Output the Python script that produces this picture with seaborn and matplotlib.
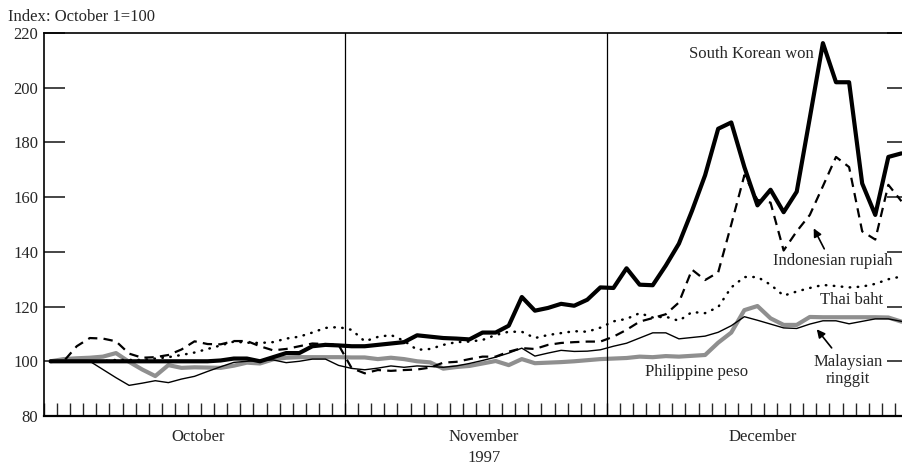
import numpy as np
import pandas as pd
import matplotlib
matplotlib.use("Agg")
import matplotlib.pyplot as plt
import seaborn as sns

# trading days Oct 1 - Dec 31, 1997 (index 0..65), plotted at the centre of each day slot
days = np.arange(66) + 0.5

won = [100, 100, 100, 100, 100, 100, 100, 100, 100, 100, 100, 100, 100, 100.3,
       101, 101, 100, 101.5, 103, 103, 105.5, 106, 105.8,
       105.5, 105.5, 106, 106.5, 107, 109.5, 109, 108.5, 108.3, 108, 110.5,
       110.5, 113, 123.5, 118.5, 119.5, 121, 120.3, 122.5, 127,
       126.8, 134, 128, 127.8, 135, 143, 155, 168, 185, 187.3, 171, 157,
       162.7, 154.5, 162, 189, 216.3, 202, 202, 165, 153.5, 174.7, 176]

rupiah = [100, 100, 105.5, 108.5, 108.3, 107.3, 102.8, 101.3, 101.5, 102.3,
          104.3, 107.3, 106.3, 106.2, 107.4, 107.4, 105.5, 104, 104.5, 105.5,
          106.5, 106.3, 106,
          97.5, 95.6, 96.8, 96.5, 96.8, 97, 97.7, 99.5, 99.8, 100.8, 101.7,
          101.7, 103.5, 104.8, 104.5, 106, 106.7, 107, 107.2, 107.2,
          109, 111.5, 114.5, 115.8, 117.2, 121.5, 133.5, 129.7, 132.5, 150,
          168, 159, 158, 140.5, 147.5, 153.5, 164, 174.7, 171, 147.5, 144.5,
          164.5, 158.5]

baht = [100, 100, 100, 100, 100, 100.5, 100.5, 100.5, 101, 101.5, 102.3,
        103.2, 104.5, 105.8, 107.2, 106.8, 106.7, 107, 108.3, 109, 110.5,
        112.2, 112.5,
        111.5, 107.3, 108.9, 109.6, 107.5, 104.2, 104.5, 106, 107, 107.2,
        107.8, 109.6, 110.8, 110.8, 108.5, 109.6, 110.3, 111, 110.8, 112.3,
        114.6, 115.5, 117.6, 116, 116.3, 114.8, 118, 117.6, 119.8, 127,
        130.8, 130.8, 128, 124, 125.5, 126.8, 127.9, 127.5, 127, 127.3,
        128.3, 130, 131]

ringgit = [100, 100, 100, 100, 97, 94, 91.2, 92, 92.9, 92.2, 93.5, 94.5,
           96.3, 98, 99.6, 100, 100.3, 100.5, 99.5, 100, 100.8, 100.8, 98.5,
           97.4, 96.9, 97.5, 98.3, 97.8, 98.3, 98.1, 97.8, 98.3, 99.2, 100.3,
           101.5, 103, 104.8, 101.9, 103, 104, 103.6, 103.7, 104.2,
           105.5, 106.6, 108.5, 110.4, 110.4, 108.2, 108.7, 109.2, 110.6,
           113, 116.3, 115, 113.6, 112.2, 112, 113.6, 114.8, 114.8, 113.7,
           114.6, 115.5, 115.5, 114.6]

peso = [100, 100.8, 101.1, 101.3, 101.7, 103, 99.8, 97, 94.6, 98.6, 97.6,
        97.8, 97.7, 97.6, 98.4, 99.5, 99.2, 100.7, 101.3, 101.5, 101.5,
        101.5, 101.5,
        101.4, 101.4, 100.8, 101.3, 100.8, 100, 99.6, 97.3, 97.9, 98.3,
        99.2, 100.1, 98.6, 100.8, 99.3, 99.5, 99.7, 100, 100.4, 100.8,
        101, 101.2, 101.7, 101.5, 101.9, 101.7, 102, 102.3, 106.8, 110.5,
        118.7, 120.2, 115.7, 113.3, 113.3, 116.2, 116.1, 116.1, 116.1,
        116.1, 116.1, 116, 114.5]

months = ["October", "November", "December"]
month_centers = [11.8, 33.6, 54.9]
month_starts = [23, 43]
yticks = [80, 100, 120, 140, 160, 180, 200, 220]

df = pd.DataFrame({"day": days, "won": won, "rupiah": rupiah, "baht": baht,
                   "ringgit": ringgit, "peso": peso})

sns.set_style("ticks")
plt.rcParams["font.family"] = ["Liberation Serif", "DejaVu Serif"]
fs = 12

fig = plt.figure(figsize=(9.02, 4.69), dpi=100)
ax = fig.add_axes([44 / 902, 53 / 469, 864 / 902, 383 / 469])

sns.lineplot(data=df, x="day", y="peso", ax=ax, color="#8f8f8f", lw=3.0)
sns.lineplot(data=df, x="day", y="ringgit", ax=ax, color="black", lw=1.0)
sns.lineplot(data=df, x="day", y="baht", ax=ax, color="black", lw=1.8,
             linestyle=(0, (0.2, 3.0)), dash_capstyle="round")
sns.lineplot(data=df, x="day", y="rupiah", ax=ax, color="black", lw=1.6,
             linestyle=(0, (4.2, 2.8)))
sns.lineplot(data=df, x="day", y="won", ax=ax, color="black", lw=3.0)

for m in month_starts:
    ax.axvline(m, color="black", lw=0.9)

ax.set_xlim(0, 66)
ax.set_ylim(80, 220)
ax.set_yticks(yticks)
ax.set_xticks(np.arange(0, 67))
ax.set_xticklabels([])
ax.set_xlabel("")
ax.set_ylabel("")
ax.tick_params(axis="y", direction="in", length=15, width=1.2, left=True,
               right=True, labelsize=fs, pad=4)
ax.tick_params(axis="x", direction="in", length=9.5, width=1.0, bottom=True)
for s in ax.spines.values():
    s.set_linewidth(1.2)
    s.set_color("black")
ax.spines["bottom"].set_linewidth(1.6)

for name, c in zip(months, month_centers):
    ax.text(c, -0.055, name, transform=ax.get_xaxis_transform(), ha="center",
            va="center", fontsize=fs)
ax.text(33.6, -0.11, "1997", transform=ax.get_xaxis_transform(), ha="center",
        va="center", fontsize=fs)
fig.text(8 / 902, 1 - 17 / 469, "Index: October 1=100", ha="left",
         va="center", fontsize=fs)

ax.text(58.8, 212.3, "South Korean won", ha="right", va="center", fontsize=fs)
ax.text(55.7, 136.7, "Indonesian rupiah", ha="left", va="center", fontsize=fs)
ax.annotate("", xy=(58.7, 149.5), xytext=(59.7, 140.2),
            arrowprops=dict(arrowstyle="-|>", color="black", lw=1.2,
                            mutation_scale=12))
ax.text(59.3, 122.4, "Thai baht", ha="left", va="center", fontsize=fs)
ax.text(45.9, 96.1, "Philippine peso", ha="left", va="center", fontsize=fs)
ax.text(61.4, 96.7, "Malaysian\nringgit", ha="center", va="center",
        fontsize=fs, linespacing=1.05)
ax.annotate("", xy=(58.9, 112.5), xytext=(60.3, 104.1),
            arrowprops=dict(arrowstyle="-|>", color="black", lw=1.2,
                            mutation_scale=12))

fig.savefig("out.png", dpi=100)
